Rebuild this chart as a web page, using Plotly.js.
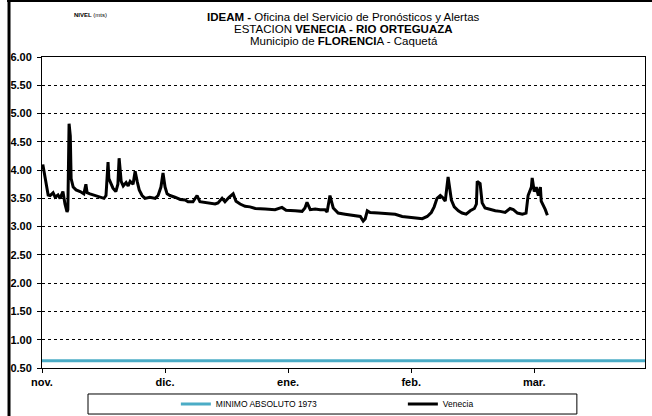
<!DOCTYPE html>
<html>
<head>
<meta charset="utf-8">
<script src="https://cdn.plot.ly/plotly-3.0.1.min.js"></script>
<style>html,body{margin:0;padding:0;background:#fff;}#chart{width:652px;height:416px;}</style>
</head>
<body>
<div id="chart"></div>
<script>
// day index from 1 Nov (ticks every 30 days, as in the source chart)
const monthTicks = [0, 30, 60, 90, 120];
const monthLabels = ['nov.', 'dic.', 'ene.', 'feb.', 'mar.'];

const veneciaDay = [0.2,1.0,1.5,2.0,2.7,3.2,3.9,4.4,4.9,5.1,5.6,6.1,6.3,6.6,6.9,7.1,7.6,8.3,9.3,10.2,10.7,11.0,11.7,12.9,14.1,15.1,15.6,16.1,16.3,16.8,17.3,18.0,18.5,18.8,19.3,19.8,20.5,21.0,21.5,22.2,22.7,23.2,23.7,24.4,25.1,26.3,27.6,28.3,29.0,29.5,30.0,30.5,31.2,32.4,33.7,34.9,35.6,36.8,37.8,38.5,39.8,41.0,42.2,42.9,43.9,44.6,45.6,46.6,47.3,48.3,49.5,50.7,52.0,54.4,56.8,58.5,59.5,61.7,63.4,64.1,64.6,65.4,66.6,67.8,69.0,69.5,70.2,71.0,72.2,73.9,76.3,77.6,78.3,78.8,79.3,80.0,82.0,83.7,86.1,87.8,89.8,91.7,92.7,93.9,94.9,95.6,96.3,97.1,97.6,98.3,99.0,99.8,100.5,101.5,102.4,103.4,104.4,105.4,105.9,106.1,106.8,107.3,108.0,109.3,110.5,111.7,112.9,114.1,114.9,115.9,117.1,118.0,118.5,119.3,119.5,120.0,120.5,121.0,121.5,121.7,122.2,122.7,123.2];
const veneciaNivel = [4.10,3.72,3.56,3.55,3.60,3.52,3.56,3.50,3.58,3.62,3.40,3.26,3.30,4.82,4.60,3.85,3.70,3.65,3.62,3.58,3.75,3.60,3.58,3.55,3.52,3.50,3.55,4.14,3.85,3.75,3.68,3.62,3.75,4.21,3.80,3.72,3.78,3.72,3.80,3.75,3.98,3.80,3.65,3.55,3.50,3.52,3.50,3.55,3.70,3.95,3.70,3.58,3.55,3.52,3.48,3.47,3.44,3.44,3.55,3.44,3.43,3.42,3.40,3.42,3.50,3.44,3.52,3.58,3.45,3.40,3.36,3.35,3.32,3.31,3.30,3.34,3.29,3.28,3.27,3.33,3.43,3.30,3.31,3.30,3.30,3.26,3.55,3.33,3.24,3.22,3.20,3.18,3.10,3.14,3.28,3.25,3.24,3.23,3.22,3.18,3.17,3.15,3.14,3.18,3.25,3.35,3.50,3.55,3.52,3.45,3.88,3.47,3.35,3.28,3.24,3.22,3.28,3.32,3.40,3.80,3.76,3.42,3.33,3.30,3.28,3.27,3.25,3.32,3.30,3.24,3.22,3.24,3.55,3.70,3.86,3.62,3.70,3.55,3.70,3.45,3.38,3.30,3.20];

const minimoDay = [0, 147];
const minimoNivel = [0.63, 0.63];

const yTicks = [0.5,1.0,1.5,2.0,2.5,3.0,3.5,4.0,4.5,5.0,5.5,6.0];

const narrow = '"Liberation Sans Narrow", "Arial Narrow", "Liberation Sans", Arial, sans-serif';
const sans = '"Liberation Sans", Arial, sans-serif';

const traces = [
  {x: minimoDay, y: minimoNivel, type: 'scatter', mode: 'lines', name: 'MINIMO ABSOLUTO 1973',
   line: {color: '#4BACC6', width: 3}},
  {x: veneciaDay, y: veneciaNivel, type: 'scatter', mode: 'lines', name: 'Venecia',
   line: {color: '#000000', width: 3}}
];

const layout = {
  width: 652, height: 416,
  margin: {l: 42, r: 7, t: 57, b: 48, autoexpand: false},
  paper_bgcolor: '#ffffff', plot_bgcolor: '#ffffff',
  showlegend: true,
  legend: {orientation: 'h', x: 0.222, xanchor: 'left', y: -0.116, yanchor: 'middle',
           entrywidth: 182, entrywidthmode: 'pixels', bgcolor: 'rgba(0,0,0,0)',
           font: {family: narrow, size: 8.5, color: '#000'}},
  xaxis: {range: [0, 147], tickmode: 'array', tickvals: monthTicks, ticktext: monthLabels,
          showgrid: false, zeroline: false, showline: true, mirror: true, linecolor: '#000', linewidth: 1,
          ticks: 'outside', ticklen: 4, tickcolor: '#000',
          tickfont: {family: sans, size: 11, color: '#000', weight: 'bold'}},
  yaxis: {range: [0.5, 6.0], tickmode: 'array', tickvals: yTicks, tickformat: '.2f',
          showgrid: true, gridcolor: '#000', gridwidth: 1, griddash: 'dot',
          zeroline: false, showline: true, mirror: true, linecolor: '#000', linewidth: 1,
          ticks: 'outside', ticklen: 4, tickcolor: '#000', ticklabelstandoff: 3,
          tickfont: {family: sans, size: 11, color: '#000', weight: 'bold'}},
  annotations: [
    {xref: 'paper', yref: 'paper', x: 0.5, y: 1.1286, showarrow: false, yanchor: 'middle',
     text: '<b>IDEAM - </b>Oficina del Servicio de Pronósticos y Alertas',
     font: {family: narrow, size: 11.5, color: '#000'}},
    {xref: 'paper', yref: 'paper', x: 0.5, y: 1.090, showarrow: false, yanchor: 'middle',
     text: 'ESTACION <b>VENECIA - RIO ORTEGUAZA</b>',
     font: {family: narrow, size: 11.5, color: '#000'}},
    {xref: 'paper', yref: 'paper', x: 0.5, y: 1.0514, showarrow: false, yanchor: 'middle',
     text: 'Municipio de <b>FLORENCI</b>A - Caquetá',
     font: {family: narrow, size: 11.5, color: '#000'}},
    {xref: 'paper', yref: 'paper', x: 0.0498, y: 1.135, showarrow: false, yanchor: 'middle',
     text: '<b>NIVEL</b> (mts)',
     font: {family: narrow, size: 6, color: '#000'}}
  ],
  shapes: [
    {type: 'rect', xref: 'paper', yref: 'paper', x0: 0.0763, x1: 0.887, y0: -0.0836, y1: -0.148,
     line: {color: '#000', width: 1}, fillcolor: 'rgba(0,0,0,0)'},
    {type: 'line', xref: 'paper', yref: 'paper', x0: -0.0547, x1: -0.0547, y0: 1.19, y1: -0.16,
     line: {color: '#000', width: 3}},
    {type: 'line', xref: 'paper', yref: 'paper', x0: -0.058, x1: 1.02, y0: 1.1815, y1: 1.1815,
     line: {color: '#000', width: 3}}
  ]
};

Plotly.newPlot('chart', traces, layout, {displayModeBar: false, staticPlot: true});
</script>
</body>
</html>
